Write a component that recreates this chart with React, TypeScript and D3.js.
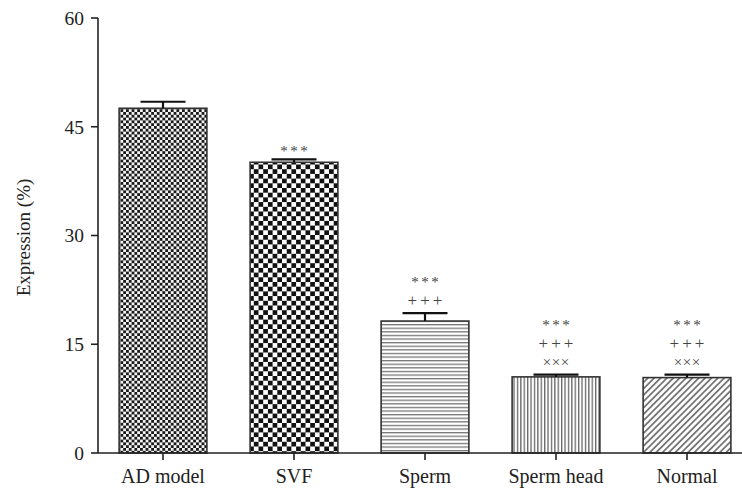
import React from "react";
import * as d3 from "d3";

const categories = ["AD model", "SVF", "Sperm", "Sperm head", "Normal"];
const means = [47.55, 40.1, 18.2, 10.5, 10.4];
const errors = [0.9, 0.4, 1.1, 0.3, 0.4];
const annotations: string[][] = [[], ["***"], ["***", "+++"], ["***", "+++", "×××"], ["***", "+++", "×××"]];
const yTicks = [0, 15, 30, 45, 60];
const patternIds = ["pFineCheck", "pCoarseCheck", "pHoriz", "pVert", "pDiag"];

const W = 742;
const H = 494;
const FONT = "'Liberation Serif', 'DejaVu Serif', serif";
const ASC = 0.891;
const DESC = 0.216;

const glyphStyle: Record<string, { fs: number; ls: number; lift: number }> = {
  "***": { fs: 15, ls: 2.5, lift: 0.62 },
  "+++": { fs: 17, ls: 3, lift: 0.34 },
  "×××": { fs: 15, ls: 0.6, lift: 0.34 },
};
const topExt = (a: string) => (ASC - glyphStyle[a].lift) * glyphStyle[a].fs;
const bottomExt = (a: string) => (glyphStyle[a].lift + DESC) * glyphStyle[a].fs;

export default function App() {
  const x = d3
    .scaleBand<string>()
    .domain(categories)
    .range([97.5, 752.5])
    .paddingInner(0.33)
    .paddingOuter(0.165);
  const y = d3.scaleLinear().domain([0, 60]).range([453, 18]);
  const axisX = 98;
  const axisY = 453;

  return (
    <svg
      width={W}
      height={H}
      style={{ position: "absolute", left: 0, top: 0, background: "#fff" }}
    >
      <defs>
        <pattern id="pFineCheck" width={5.6} height={5.6} patternUnits="userSpaceOnUse">
          <rect width={5.6} height={5.6} fill="#f4f4f4" />
          <rect width={2.8} height={2.8} fill="#1a1a1a" />
          <rect x={2.8} y={2.8} width={2.8} height={2.8} fill="#1a1a1a" />
        </pattern>
        <pattern id="pCoarseCheck" width={9.4} height={9.4} patternUnits="userSpaceOnUse">
          <rect width={9.4} height={9.4} fill="#fff" />
          <rect width={4.7} height={4.7} fill="#111" />
          <rect x={4.7} y={4.7} width={4.7} height={4.7} fill="#111" />
        </pattern>
        <pattern id="pHoriz" width={4} height={3.6} patternUnits="userSpaceOnUse">
          <rect width={4} height={3.6} fill="#fff" />
          <rect y={0} width={4} height={1.3} fill="#777" />
        </pattern>
        <pattern id="pVert" width={3.4} height={4} patternUnits="userSpaceOnUse">
          <rect width={3.4} height={4} fill="#fff" />
          <rect x={0} width={1.3} height={4} fill="#666" />
        </pattern>
        <pattern
          id="pDiag"
          width={4.5}
          height={4.5}
          patternUnits="userSpaceOnUse"
          patternTransform="rotate(45)"
        >
          <rect width={4.5} height={4.5} fill="#fff" />
          <rect width={1.8} height={4.5} fill="#777" />
        </pattern>
      </defs>

      {/* bars */}
      {categories.map((c, i) => {
        const bx = x(c)!;
        const bw = x.bandwidth();
        const top = y(means[i]);
        return (
          <rect
            key={c}
            x={bx}
            y={top}
            width={bw}
            height={axisY - top}
            fill={`url(#${patternIds[i]})`}
            stroke="#333"
            strokeWidth={1.6}
          />
        );
      })}

      {/* error bars */}
      {categories.map((c, i) => {
        const cx = x(c)! + x.bandwidth() / 2;
        const top = y(means[i]);
        const et = y(means[i] + errors[i]);
        return (
          <g key={c} stroke="#111" strokeWidth={2.2}>
            <line x1={cx} x2={cx} y1={top} y2={et} />
            <line x1={cx - 22.5} x2={cx + 22.5} y1={et} y2={et} />
          </g>
        );
      })}

      {/* annotations, stacked upward from the error cap without overlapping */}
      {categories.map((c, i) => {
        const cx = x(c)! + x.bandwidth() / 2;
        const et = y(means[i] + errors[i]);
        const list = annotations[i];
        const centers: number[] = new Array(list.length);
        let cur = et - 13;
        for (let k = list.length - 1; k >= 0; k--) {
          if (k < list.length - 1) {
            cur = cur - topExt(list[k + 1]) - bottomExt(list[k]) - 0.6;
          }
          centers[k] = cur;
        }
        return list.map((a, k) => {
          const g = glyphStyle[a];
          return (
            <text
              key={c + k}
              x={cx + g.ls / 2}
              y={centers[k] + g.lift * g.fs}
              textAnchor="middle"
              fontFamily={FONT}
              fontSize={g.fs}
              letterSpacing={g.ls}
              fill="#444"
            >
              {a}
            </text>
          );
        });
      })}

      {/* y axis */}
      <line x1={axisX} x2={axisX} y1={y(60)} y2={axisY} stroke="#222" strokeWidth={1.6} />
      {yTicks.map((t) => (
        <g key={t}>
          <line x1={axisX - 7} x2={axisX} y1={y(t)} y2={y(t)} stroke="#222" strokeWidth={1.6} />
          <text
            x={axisX - 14}
            y={y(t)}
            dy="0.35em"
            textAnchor="end"
            fontFamily={FONT}
            fontSize={19.5}
            fill="#222"
          >
            {t}
          </text>
        </g>
      ))}
      <text
        transform={`translate(23, ${(y(60) + axisY) / 2 + 2}) rotate(-90)`}
        textAnchor="middle"
        dy="0.35em"
        fontFamily={FONT}
        fontSize={19}
        fill="#222"
      >
        Expression (%)
      </text>

      {/* x axis */}
      <line x1={axisX} x2={W} y1={axisY} y2={axisY} stroke="#222" strokeWidth={1.6} />
      {categories.map((c) => {
        const cx = x(c)! + x.bandwidth() / 2;
        return (
          <g key={c}>
            <line x1={cx} x2={cx} y1={axisY} y2={axisY + 7} stroke="#222" strokeWidth={1.6} />
            <text
              x={cx}
              y={axisY + 30}
              textAnchor="middle"
              fontFamily={FONT}
              fontSize={20}
              fill="#222"
            >
              {c}
            </text>
          </g>
        );
      })}
    </svg>
  );
}
